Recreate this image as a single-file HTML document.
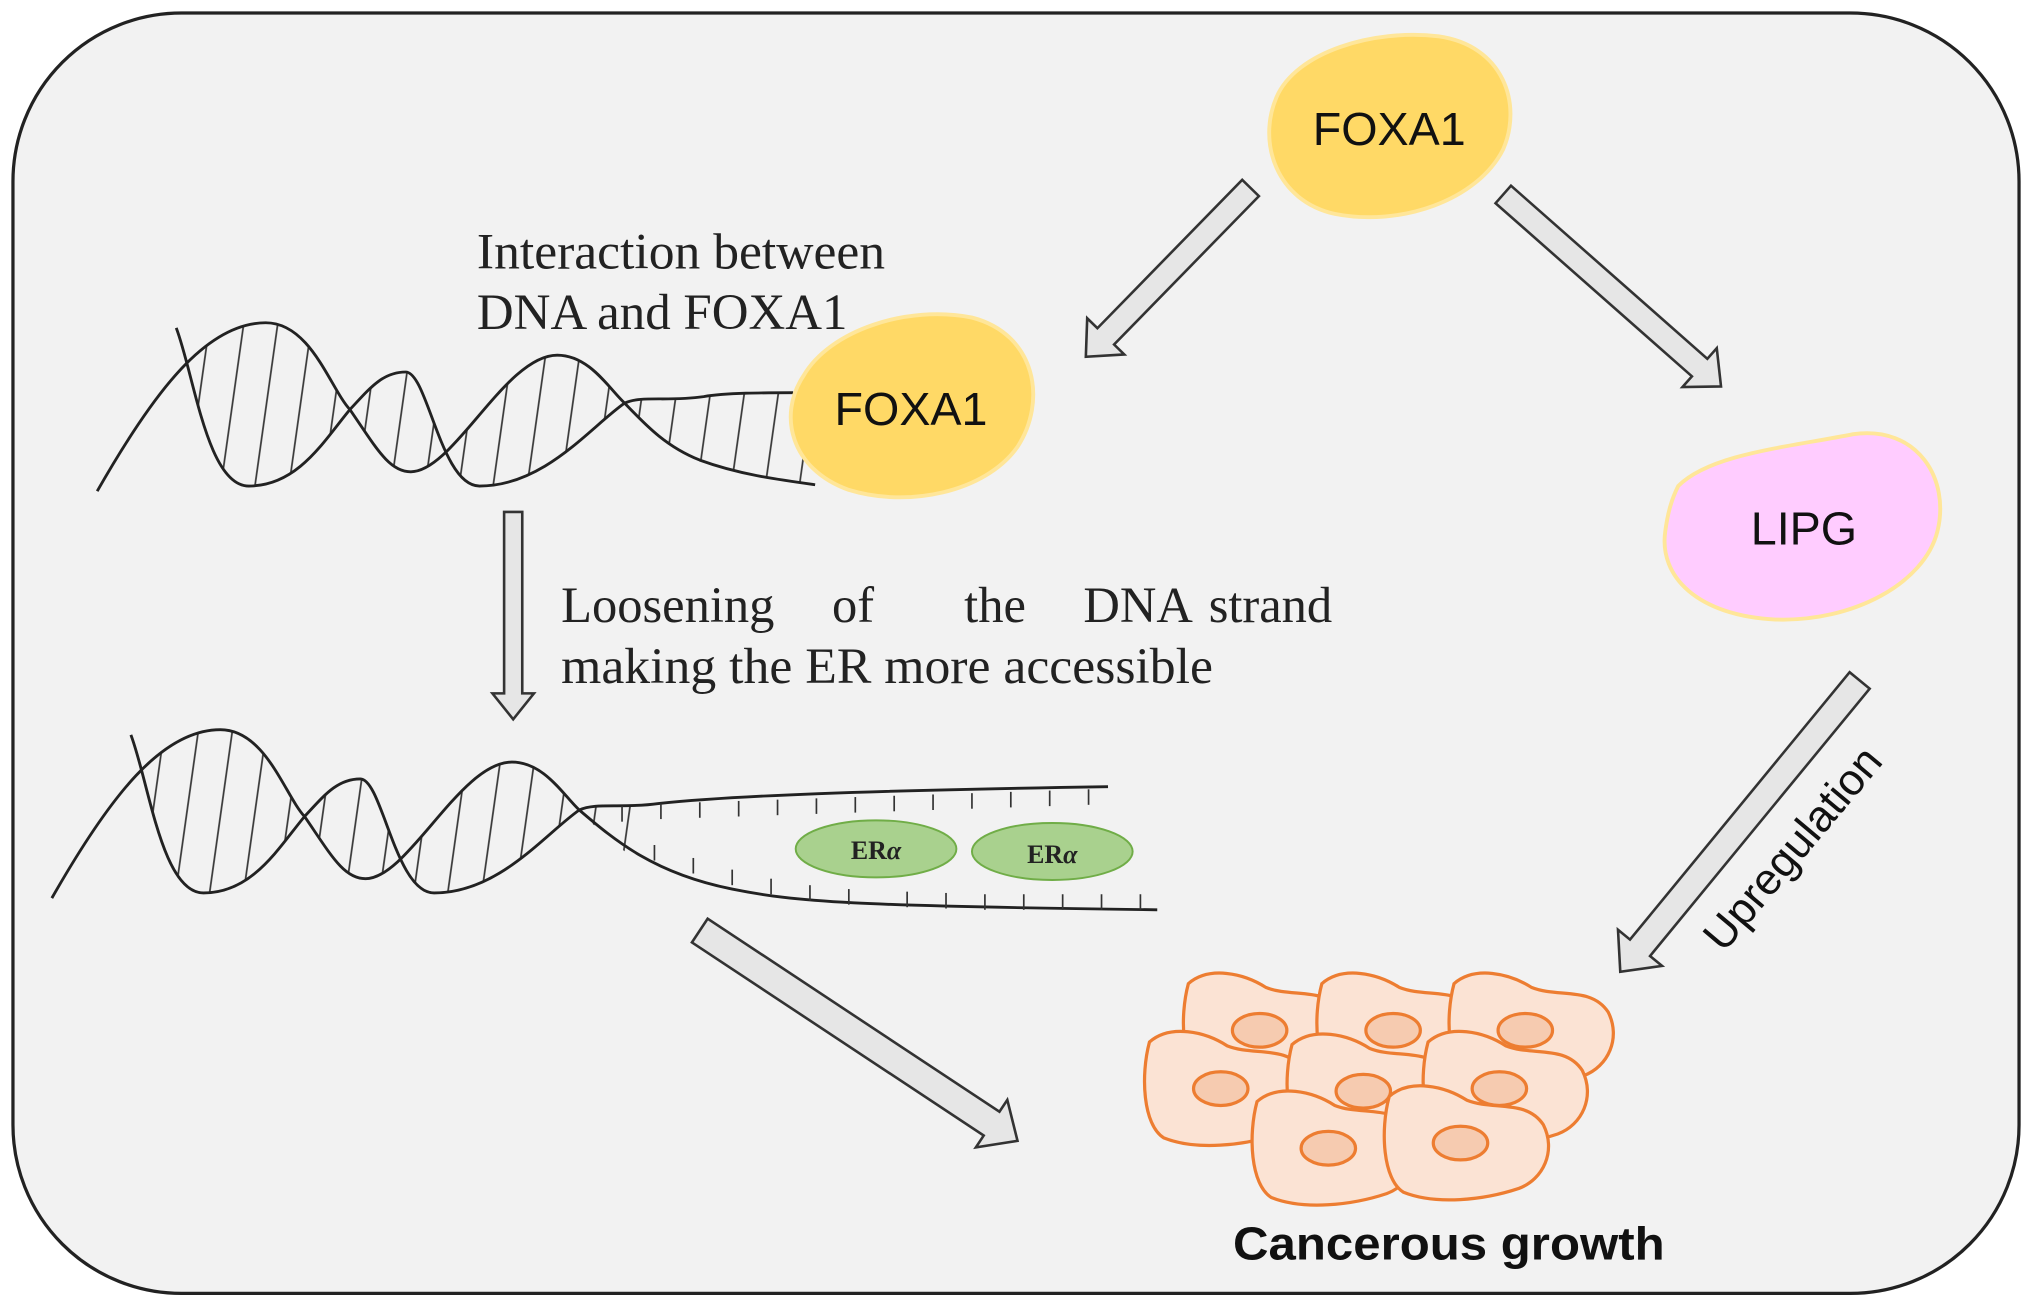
<!DOCTYPE html>
<html><head><meta charset="utf-8"><style>
html,body{margin:0;padding:0;background:#fff;}
svg{display:block;}
</style></head><body>
<svg width="2032" height="1309" viewBox="0 0 1568 1010" xmlns="http://www.w3.org/2000/svg">
<defs>
<pattern id="hatch" patternUnits="userSpaceOnUse" width="26" height="400" patternTransform="rotate(8)">
<line x1="13" y1="0" x2="13" y2="400" stroke="#333" stroke-width="1.3"/>
</pattern>
<clipPath id="c1"><rect x="150" y="0" width="500" height="1010"/></clipPath>
<g id="cell">
<path d="M-58,-36 C-42,-50 -15,-44 2,-33 C22,-25 48,-34 61,-14 C71,6 61,28 42,35 C15,44 -22,48 -47,38 C-63,28 -65,-10 -58,-36Z" fill="#fbe3d4" stroke="#ed7d31" stroke-width="2.5"/>
<ellipse cx="-3" cy="0" rx="21" ry="13" fill="#f6cbb0" stroke="#ed7d31" stroke-width="2.5"/>
</g>
</defs>
<rect x="0" y="0" width="1568" height="1010" fill="#fff"/>
<rect x="10" y="10" width="1548" height="988" rx="130" ry="130" fill="#f2f2f2" stroke="#222" stroke-width="2.5"/>

<g fill="#e6e6e6" stroke="#333" stroke-width="2">
<polygon transform="translate(965,145) rotate(134.3)" points="0,-9 160,-9 160,-20 182,0 160,20 160,9 0,9"/>
<polygon transform="translate(1160,150) rotate(41.4)" points="0,-9 202,-9 202,-20 224,0 202,20 202,9 0,9"/>
<polygon transform="translate(396,395) rotate(90)" points="0,-7 140,-7 140,-16 160,0 140,16 140,7 0,7"/>
<polygon transform="translate(540,718) rotate(33.5)" points="0,-11 270,-11 270,-22 294,0 270,22 270,11 0,11"/>
<polygon transform="translate(1435,525) rotate(129.4)" points="0,-10 267,-10 267,-22 291,0 267,22 267,10 0,10"/>
</g>

<g clip-path="url(#c1)">
<path d="M75,379 C120,300 160,249 205,249 C240,249 255,300 270,316 C290,345 300,364 317,364 C350,364 390,274 430,274 C455,274 470,300 482,311 C500,330 515,345 540,355 C570,366 600,370 629,374
 L612,303 C590,303 560,303 543,306 C515,310 495,305 482,311 C455,330 420,375 370,375 C340,375 330,287 313,287 C295,287 285,300 270,316 C250,340 230,375 192,375 C160,375 150,290 136,253 Z" fill="url(#hatch)" fill-rule="evenodd" stroke="none"/>
</g>
<path d="M75,379 C120,300 160,249 205,249 C240,249 255,300 270,316 C290,345 300,364 317,364 C350,364 390,274 430,274 C455,274 470,300 482,311 C500,330 515,345 540,355 C570,366 600,370 629,374" fill="none" stroke="#222" stroke-width="2.2"/>
<path d="M136,253 C150,290 160,375 192,375 C230,375 250,340 270,316 C285,300 295,287 313,287 C330,287 340,375 370,375 C420,375 455,330 482,311 C495,305 515,310 543,306 C560,303 590,303 612,303" fill="none" stroke="#222" stroke-width="2.2"/>

<g transform="translate(-35,314)">
<g clip-path="url(#c1)">
<path d="M75,379 C120,300 160,249 205,249 C240,249 255,300 270,316 C290,345 300,364 317,364 C350,364 390,274 430,274 C455,274 470,300 482,311 C500,330 515,345 540,355
 L543,306 C515,310 495,305 482,311 C455,330 420,375 370,375 C340,375 330,287 313,287 C295,287 285,300 270,316 C250,340 230,375 192,375 C160,375 150,290 136,253 Z" fill="url(#hatch)" fill-rule="evenodd" stroke="none"/>
</g>
<path d="M75,379 C120,300 160,249 205,249 C240,249 255,300 270,316 C290,345 300,364 317,364 C350,364 390,274 430,274 C455,274 470,300 482,311 C510,335 540,360 600,372 C650,382 690,385 928,388" fill="none" stroke="#222" stroke-width="2.2"/>
<path d="M136,253 C150,290 160,375 192,375 C230,375 250,340 270,316 C285,300 295,287 313,287 C330,287 340,375 370,375 C420,375 455,330 482,311 C495,305 515,310 543,306 C600,300 700,296 890,293" fill="none" stroke="#222" stroke-width="2.2"/>
</g>
<g stroke="#333" stroke-width="1.3">
<line x1="480" y1="622" x2="480" y2="634"/><line x1="510" y1="620" x2="510" y2="632"/><line x1="540" y1="619" x2="540" y2="631"/><line x1="570" y1="618" x2="570" y2="630"/><line x1="600" y1="617" x2="600" y2="629"/><line x1="630" y1="616" x2="630" y2="628"/><line x1="660" y1="615" x2="660" y2="627"/><line x1="690" y1="614" x2="690" y2="626"/><line x1="720" y1="613" x2="720" y2="625"/><line x1="750" y1="612" x2="750" y2="624"/><line x1="780" y1="611" x2="780" y2="623"/><line x1="810" y1="610" x2="810" y2="622"/><line x1="840" y1="609" x2="840" y2="621"/>
<line x1="505" y1="652" x2="505" y2="664"/><line x1="535" y1="662" x2="535" y2="674"/><line x1="565" y1="671" x2="565" y2="683"/><line x1="595" y1="678" x2="595" y2="690"/><line x1="625" y1="683" x2="625" y2="695"/><line x1="655" y1="686" x2="655" y2="698"/><line x1="700" y1="688" x2="700" y2="700"/><line x1="730" y1="689" x2="730" y2="701"/><line x1="760" y1="690" x2="760" y2="702"/><line x1="790" y1="690" x2="790" y2="702"/><line x1="820" y1="690" x2="820" y2="702"/><line x1="850" y1="690" x2="850" y2="702"/><line x1="880" y1="690" x2="880" y2="702"/>
</g>
<ellipse cx="676" cy="655" rx="62" ry="22" fill="#a9d18e" stroke="#70ad47" stroke-width="1.5"/>
<ellipse cx="812" cy="657" rx="62" ry="22" fill="#a9d18e" stroke="#70ad47" stroke-width="1.5"/>
<text x="676" y="663" font-family="Liberation Serif, serif" font-weight="bold" font-size="20" text-anchor="middle" fill="#222">ER<tspan font-style="italic">α</tspan></text>
<text x="812" y="666" font-family="Liberation Serif, serif" font-weight="bold" font-size="20" text-anchor="middle" fill="#222">ER<tspan font-style="italic">α</tspan></text>

<path d="M985,75 C1000,40 1060,22 1110,28 C1160,35 1175,80 1160,115 C1140,155 1080,175 1030,165 C985,155 970,110 985,75Z" fill="#ffd966" stroke="#ffe699" stroke-width="3"/>
<text x="1072" y="112" font-family="Liberation Sans, sans-serif" font-size="36" text-anchor="middle" fill="#111" textLength="118" lengthAdjust="spacingAndGlyphs">FOXA1</text>
<path d="M620,290 C640,255 700,235 750,245 C800,258 808,310 785,345 C760,380 700,392 655,378 C610,362 600,320 620,290Z" fill="#ffd966" stroke="#ffe699" stroke-width="3"/>
<text x="703" y="328" font-family="Liberation Sans, sans-serif" font-size="36" text-anchor="middle" fill="#111" textLength="118" lengthAdjust="spacingAndGlyphs">FOXA1</text>
<path d="M1295,375 C1320,350 1380,345 1430,335 C1480,328 1505,370 1495,410 C1485,450 1430,480 1370,478 C1310,475 1280,445 1285,410 C1287,395 1290,385 1295,375Z" fill="#ffccff" stroke="#ffe699" stroke-width="3"/>
<text x="1392" y="420" font-family="Liberation Sans, sans-serif" font-size="36" text-anchor="middle" fill="#111">LIPG</text>

<g font-family="Liberation Serif, serif" font-size="39" fill="#222">
<text x="368" y="207" textLength="315" lengthAdjust="spacingAndGlyphs">Interaction between</text>
<text x="368" y="254" textLength="286" lengthAdjust="spacingAndGlyphs">DNA and FOXA1</text>
<text x="433" y="480">Loosening</text>
<text x="642" y="480">of</text>
<text x="744" y="480">the</text>
<text x="836" y="480">DNA</text>
<text x="1028" y="480" text-anchor="end">strand</text>
<text x="433" y="527" textLength="503" lengthAdjust="spacingAndGlyphs">making the ER more accessible</text>
</g>
<text transform="translate(1392,662) rotate(-50)" font-family="Liberation Sans, sans-serif" font-size="34" text-anchor="middle" fill="#111">Upregulation</text>

<use href="#cell" x="975" y="795"/>
<use href="#cell" x="1078" y="795"/>
<use href="#cell" x="1180" y="795"/>
<use href="#cell" x="945" y="840"/>
<use href="#cell" x="1055" y="842"/>
<use href="#cell" x="1160" y="840"/>
<use href="#cell" x="1028" y="886"/>
<use href="#cell" x="1130" y="882"/>

<text x="1118" y="972" font-family="Liberation Sans, sans-serif" font-weight="bold" font-size="36" text-anchor="middle" fill="#111" textLength="333" lengthAdjust="spacingAndGlyphs">Cancerous growth</text>
</svg>
</body></html>
